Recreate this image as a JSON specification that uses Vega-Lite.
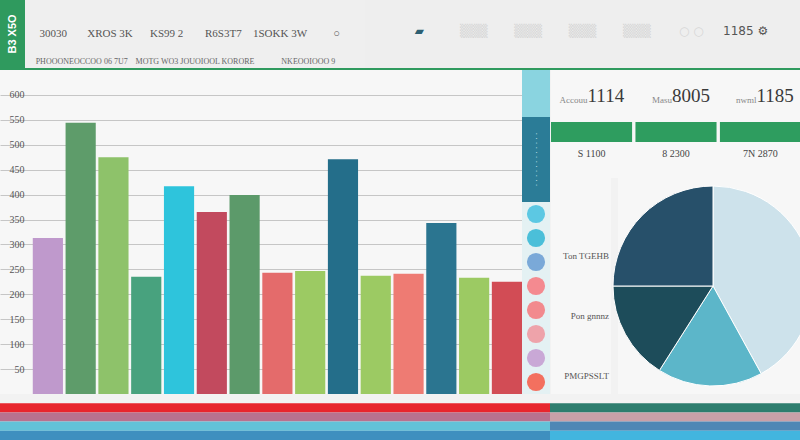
{
  "$schema": "https://vega.github.io/schema/vega-lite/v6.json",
  "background": "#f2f2f2",
  "padding": 0,
  "spacing": 0,
  "config": {
    "view": {"stroke": null},
    "font": "Liberation Sans",
    "concat": {"spacing": 0},
    "text": {"font": "Liberation Serif"}
  },
  "resolve": {"scale": {"color": "independent", "x": "independent", "y": "independent"}},
  "datasets": {
    "bars": [
      {"id": "01", "value": 313},
      {"id": "02", "value": 544},
      {"id": "03", "value": 475},
      {"id": "04", "value": 235},
      {"id": "05", "value": 417},
      {"id": "06", "value": 365},
      {"id": "07", "value": 399},
      {"id": "08", "value": 243},
      {"id": "09", "value": 247},
      {"id": "10", "value": 471},
      {"id": "11", "value": 237},
      {"id": "12", "value": 241},
      {"id": "13", "value": 343},
      {"id": "14", "value": 233},
      {"id": "15", "value": 225}
    ],
    "kpi": [
      {"k": "a", "lab": "Accouu", "num": "1114", "bot": "S 1100"},
      {"k": "b", "lab": "Masu", "num": "8005", "bot": "8 2300"},
      {"k": "c", "lab": "nwml", "num": "1185", "bot": "7N 2870"}
    ],
    "pie": [
      {"slice": "A", "share": 42, "o": 1},
      {"slice": "B", "share": 17, "o": 2},
      {"slice": "C", "share": 16, "o": 3},
      {"slice": "D", "share": 25, "o": 4}
    ],
    "dots": [
      {"d": "1"}, {"d": "2"}, {"d": "3"}, {"d": "4"},
      {"d": "5"}, {"d": "6"}, {"d": "7"}, {"d": "8"}
    ],
    "stripes": [
      {"s": "0"}, {"s": "1"}, {"s": "2"}, {"s": "3"}, {"s": "4"}
    ]
  },
  "vconcat": [
    {
      "spacing": 0,
      "resolve": {"scale": {"color": "independent", "x": "independent", "y": "independent"}},
      "hconcat": [
        {
          "width": 25, "height": 68,
          "view": {"fill": "#2f9a5e"},
          "data": {"values": [{"t": "B3 X5O"}]},
          "mark": {"type": "text", "angle": 270, "color": "#ffffff", "fontSize": 11, "fontWeight": "bold", "font": "Liberation Sans"},
          "encoding": {"text": {"field": "t"}}
        },
        {
          "width": 340, "height": 68,
          "view": {"fill": "#efefef"},
          "layer": [
            {
              "data": {"values": [
                {"slot": "s1", "row": "r1", "t": "30030"},
                {"slot": "s2", "row": "r1", "t": "XROS 3K"},
                {"slot": "s3", "row": "r1", "t": "KS99 2"},
                {"slot": "s4", "row": "r1", "t": "R6S3T7"},
                {"slot": "s5", "row": "r1", "t": "1SOKK 3W"},
                {"slot": "s6", "row": "r1", "t": "○"}
              ]},
              "mark": {"type": "text", "fontSize": 11, "color": "#555555"},
              "encoding": {
                "x": {"field": "slot", "type": "ordinal", "axis": null, "scale": {"type": "point", "padding": 0.5}},
                "y": {"field": "row", "type": "ordinal", "axis": null, "scale": {"type": "point", "padding": 0.2, "domain": ["r0", "r1", "r2"]}},
                "text": {"field": "t"}
              }
            },
            {
              "data": {"values": [
                {"slot2": "t1", "row": "r2", "t": "PHOOONEOCCOO 06 7U7"},
                {"slot2": "t2", "row": "r2", "t": "MOTG WO3 JOUOIOOL KORORE"},
                {"slot2": "t3", "row": "r2", "t": "NKEOOIOOO  9"}
              ]},
              "mark": {"type": "text", "fontSize": 8, "color": "#666666"},
              "encoding": {
                "x": {"field": "slot2", "type": "ordinal", "axis": null, "scale": {"type": "point", "padding": 0.5}},
                "y": {"field": "row", "type": "ordinal", "axis": null, "scale": {"type": "point", "padding": 0.2, "domain": ["r0", "r1", "r2"]}},
                "text": {"field": "t"}
              }
            }
          ],
          "resolve": {"scale": {"x": "independent"}}
        },
        {
          "width": 435, "height": 68,
          "view": {"fill": "#eeeeee"},
          "data": {"values": [
            {"slot": "h1", "t": "▰", "c": "flag"},
            {"slot": "h2", "t": "▒▒▒", "c": "box"},
            {"slot": "h3", "t": "▒▒▒", "c": "box"},
            {"slot": "h4", "t": "▒▒▒", "c": "box"},
            {"slot": "h5", "t": "▒▒▒", "c": "box"},
            {"slot": "h6", "t": "○ ○", "c": "box"},
            {"slot": "h7", "t": "1185 ⚙", "c": "txt"}
          ]},
          "mark": {"type": "text", "fontSize": 12, "font": "DejaVu Sans", "dy": -3},
          "encoding": {
            "x": {"field": "slot", "type": "ordinal", "axis": null, "scale": {"type": "point", "padding": 1}},
            "text": {"field": "t"},
            "color": {"field": "c", "type": "nominal", "legend": null, "scale": {"domain": ["flag", "box", "txt"], "range": ["#2d5f72", "#d6d6d6", "#555555"]}}
          }
        }
      ]
    },
    {
      "width": 800, "height": 2,
      "view": {"fill": "#2f9a5e"},
      "data": {"values": [{}]},
      "mark": {"type": "text", "text": "", "fontSize": 1}
    },
    {
      "spacing": 0,
      "resolve": {"scale": {"color": "independent", "x": "independent", "y": "independent"}},
      "hconcat": [
        {
          "width": 522, "height": 324,
          "view": {"fill": "#f7f7f7"},
          "data": {"name": "bars"},
          "mark": {"type": "bar"},
          "encoding": {
            "x": {"field": "id", "type": "ordinal", "axis": null, "scale": {"domain": ["00", "01", "02", "03", "04", "05", "06", "07", "08", "09", "10", "11", "12", "13", "14", "15"], "paddingInner": 0.08, "paddingOuter": 0}},
            "y": {
              "field": "value", "type": "quantitative",
              "scale": {"domain": [0, 650]},
              "axis": {"values": [50, 100, 150, 200, 250, 300, 350, 400, 450, 500, 550, 600], "offset": -30, "domain": false, "ticks": false, "labelFontSize": 10, "labelColor": "#555555", "labelFont": "Liberation Serif", "gridColor": "#c6c6c6", "labelPadding": 6, "title": null}
            },
            "color": {
              "field": "id", "type": "nominal", "legend": null,
              "scale": {
                "domain": ["01", "02", "03", "04", "05", "06", "07", "08", "09", "10", "11", "12", "13", "14", "15"],
                "range": ["#bf99cc", "#5e9c6a", "#8ec26a", "#48a27e", "#2ec4dc", "#c24a5e", "#5c9a6a", "#e46b6b", "#9cca63", "#246e8a", "#9cca63", "#ee7b73", "#2b7590", "#9cca63", "#d24c55"]
              }
            }
          }
        },
        {
          "spacing": 0,
          "resolve": {"scale": {"color": "independent", "x": "independent", "y": "independent"}},
          "vconcat": [
            {
              "width": 28, "height": 47,
              "view": {"fill": "#8ad4e0"},
              "data": {"values": [{}]},
              "mark": {"type": "text", "text": "", "fontSize": 1}
            },
            {
              "width": 28, "height": 85,
              "view": {"fill": "#2b7c97"},
              "data": {"values": [{"t": "· · · · · · · · · · · ·"}]},
              "mark": {"type": "text", "angle": 90, "color": "#cfe9ef", "fontSize": 8},
              "encoding": {"text": {"field": "t"}}
            },
            {
              "width": 28, "height": 192,
              "view": {"fill": "#e4f1f3"},
              "data": {"name": "dots"},
              "mark": {"type": "point", "filled": true, "size": 330, "opacity": 1},
              "encoding": {
                "y": {"field": "d", "type": "ordinal", "axis": null, "scale": {"type": "point", "padding": 0.5}},
                "color": {
                  "field": "d", "type": "nominal", "legend": null,
                  "scale": {"domain": ["1", "2", "3", "4", "5", "6", "7", "8"], "range": ["#5cc8e3", "#4bbfd9", "#7aa9d8", "#f48a90", "#f28a8e", "#eea3aa", "#c9a8d6", "#f3705f"]}
                }
              }
            }
          ]
        },
        {
          "spacing": 0,
          "resolve": {"scale": {"color": "independent", "x": "independent", "y": "independent"}},
          "vconcat": [
            {
              "width": 250, "height": 52,
              "view": {"fill": "#f7f7f7"},
              "data": {"name": "kpi"},
              "layer": [
                {
                  "mark": {"type": "text", "align": "right", "fontSize": 9, "color": "#888888", "dx": -4, "dy": 4},
                  "encoding": {
                    "x": {"field": "k", "type": "nominal", "axis": null, "scale": {"type": "band", "paddingInner": 0.04, "paddingOuter": 0}},
                    "text": {"field": "lab"}
                  }
                },
                {
                  "mark": {"type": "text", "align": "left", "fontSize": 19, "color": "#3a3a3a", "dx": -4},
                  "encoding": {
                    "x": {"field": "k", "type": "nominal", "axis": null, "scale": {"type": "band", "paddingInner": 0.04, "paddingOuter": 0}},
                    "text": {"field": "num"}
                  }
                }
              ]
            },
            {
              "width": 250, "height": 20,
              "view": {"fill": "#f7f7f7"},
              "data": {"name": "kpi"},
              "mark": {"type": "bar", "color": "#2e9d5f"},
              "encoding": {
                "x": {"field": "k", "type": "nominal", "axis": null, "scale": {"type": "band", "paddingInner": 0.04, "paddingOuter": 0}}
              }
            },
            {
              "width": 250, "height": 36,
              "view": {"fill": "#f7f7f7"},
              "data": {"name": "kpi"},
              "mark": {"type": "text", "fontSize": 10, "color": "#444444", "dy": -6},
              "encoding": {
                "x": {"field": "k", "type": "nominal", "axis": null, "scale": {"type": "band", "paddingInner": 0.04, "paddingOuter": 0}},
                "text": {"field": "bot"}
              }
            },
            {
              "spacing": 0,
              "resolve": {"scale": {"color": "independent", "x": "independent", "y": "independent"}},
              "hconcat": [
                {
                  "width": 60, "height": 216,
                  "view": {"fill": "#f7f7f7"},
                  "data": {"values": [
                    {"i": "1", "t": "Ton TGEHB"},
                    {"i": "2", "t": "Pon gnnnz"},
                    {"i": "3", "t": "PMGPSSLT"}
                  ]},
                  "mark": {"type": "text", "align": "right", "fontSize": 9, "color": "#555555", "dx": 28},
                  "encoding": {
                    "y": {"field": "i", "type": "ordinal", "axis": null, "scale": {"type": "point", "padding": 0.3, "domain": ["0", "1", "2", "3"]}},
                    "text": {"field": "t"}
                  }
                },
                {
                  "width": 190, "height": 216,
                  "view": {"fill": "#f7f7f7"},
                  "data": {"name": "pie"},
                  "mark": {"type": "arc", "outerRadius": 100, "stroke": "#ffffff", "strokeWidth": 1},
                  "encoding": {
                    "theta": {"field": "share", "type": "quantitative", "stack": true},
                    "order": {"field": "o", "type": "quantitative"},
                    "color": {
                      "field": "slice", "type": "nominal", "legend": null,
                      "scale": {"domain": ["A", "B", "C", "D"], "range": ["#cde2eb", "#5cb6c9", "#1d4c5a", "#27506a"]}
                    }
                  }
                }
              ]
            }
          ]
        }
      ]
    },
    {
      "spacing": 0,
      "resolve": {"scale": {"color": "independent", "x": "independent", "y": "independent"}},
      "hconcat": [
        {
          "width": 550, "height": 46,
          "data": {"name": "stripes"},
          "mark": {"type": "bar"},
          "encoding": {
            "y": {"field": "s", "type": "ordinal", "axis": null, "scale": {"paddingInner": 0, "paddingOuter": 0}},
            "color": {"field": "s", "type": "nominal", "legend": null, "scale": {"domain": ["0", "1", "2", "3", "4"], "range": ["#f2f2f2", "#e8262d", "#b8728f", "#62c2d8", "#3f8fbf"]}}
          }
        },
        {
          "width": 250, "height": 46,
          "data": {"name": "stripes"},
          "mark": {"type": "bar"},
          "encoding": {
            "y": {"field": "s", "type": "ordinal", "axis": null, "scale": {"paddingInner": 0, "paddingOuter": 0}},
            "color": {"field": "s", "type": "nominal", "legend": null, "scale": {"domain": ["0", "1", "2", "3", "4"], "range": ["#f2f2f2", "#2e7d6e", "#c9a0a8", "#4f87b5", "#42b5df"]}}
          }
        }
      ]
    }
  ]
}
